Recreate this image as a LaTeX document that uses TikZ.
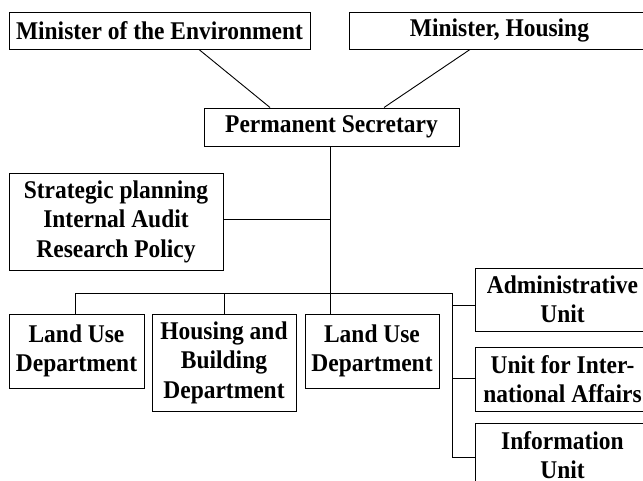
\documentclass[tikz,border=0pt]{standalone}
\usepackage{fontspec}
\setmainfont{Liberation Serif}[FakeStretch=0.92]
\begin{document}
\begin{tikzpicture}[x=1pt,y=1pt,
  ob/.style={draw, line width=1pt, align=center, inner sep=0pt,
    font=\fontsize{25.5}{29.5}\selectfont\bfseries},
  ln/.style={line width=0.9pt}]
\useasboundingbox (0,0) rectangle (643,-480);
\node[ob, minimum width=301, minimum height=37] (env) at (159.5,-30.5) {Minister of the Environment};
\node[ob, minimum width=301, minimum height=37] (hou) at (499.5,-30.5) {Minister, Housing};
\node[ob, minimum width=255, minimum height=38] (ps) at (331.5,-127) {Permanent Secretary};
\node[ob, minimum width=214, minimum height=97] (str) at (116,-221.5) {Strategic planning\\Internal Audit\\Research Policy};
\node[ob, minimum width=135, minimum height=74] (lu1) at (76.5,-351) {Land Use\\Department};
\node[ob, minimum width=144, minimum height=97] (hb) at (224,-362.5) {Housing and\\Building\\Department};
\node[ob, minimum width=134, minimum height=74] (lu2) at (372,-351) {Land Use\\Department};
\node[ob, minimum width=175, minimum height=63] (adm) at (562.5,-299.5) {Administrative\\Unit};
\node[ob, minimum width=175, minimum height=64] (intl) at (562.5,-379) {Unit for Inter-\\national Affairs};
\node[ob, minimum width=175, minimum height=64] (info) at (562.5,-455) {Information\\Unit};
\coordinate (busL) at (75,-293);
\coordinate (busR) at (452,-293);
\coordinate (spine) at (330,-293);
\draw[ln] ([xshift=39.5pt]env.south) -- ([xshift=-61.5pt]ps.north);
\draw[ln] ([xshift=-29.5pt]hou.south) -- ([xshift=52.5pt]ps.north);
\draw[ln] ([xshift=-1.5pt]ps.south) -- ([xshift=-1.5pt]ps.south |- lu2.north);
\draw[ln] ([yshift=2.5pt]str.east) -- ([yshift=2.5pt]str.east -| spine);
\draw[ln] (busL) -- (busR);
\draw[ln] (busL) -- (busL |- lu1.north);
\draw[ln] (hb.north |- busL) -- (hb.north);
\draw[ln] (busR) |- ([yshift=-2pt]info.west);
\draw[ln] ([yshift=-5.5pt]adm.west) -- ([yshift=-5.5pt]adm.west -| busR);
\draw[ln] ([yshift=1pt]intl.west) -- ([yshift=1pt]intl.west -| busR);
\end{tikzpicture}
\end{document}
